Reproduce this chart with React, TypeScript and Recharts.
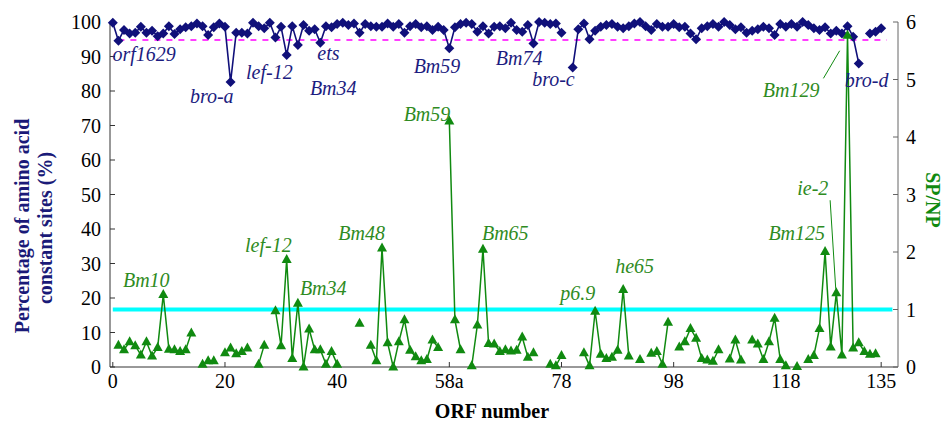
import React from 'react'
import {
  ComposedChart, Line, XAxis, YAxis, ReferenceLine, ReferenceDot,
} from 'recharts'

// ORF position index -> tick label
const tickPos = [0, 20, 40, 60, 80, 100, 120, 137]
const tickLabels = ['0', '20', '40', '58a', '78', '98', '118', '135']

// percentage of amino acid constant sites (%), one per ORF position 0..137
const constantSites: (number | null)[] = [
  99.8, 94.6, 97.7, 96.7, 96.9, 98.6, 96.9, 97.5, 95.9, 96.7,
  98.8, 96.5, 97.9, 98.5, 98.8, 99.6, 98.8, 96.2, 98.5, 99.6,
  98.6, 82.6, 96.9, 96.9, 96.7, 99.8, 98.8, 98.2, 99.8, 95.5,
  98.6, 90.4, 98.8, 93.3, 99.1, 97.5, 97.9, 94.0, 98.8, 98.5,
  99.4, 99.8, 99.1, 99.6, 96.9, 99.4, 98.8, 98.6, 98.6, 99.6,
  98.6, 99.4, 96.9, 98.8, 99.4, 98.5, 98.8, 97.7, 98.6, 97.7,
  92.4, 98.5, 99.4, 99.8, 99.4, 97.2, 98.8, 96.7, 98.6, 98.8,
  98.2, 99.8, 97.7, 97.2, 99.1, 93.8, 100, 99.8, 99.4, 99.6,
  96.9, null, 86.8, 97.9, 99.6, 95.0, 97.5, 98.6, 99.1, 99.4,
  98.6, 98.2, 98.8, 99.6, 100, 98.8, 97.7, 99.4, 98.6, 98.6,
  99.4, 98.5, 98.6, 96.7, 95.0, 98.2, 98.8, 99.4, 98.6, 100,
  99.1, 97.9, 98.5, 96.9, 97.5, 97.9, 98.6, 98.2, 96.2, 99.4,
  98.6, 99.4, 98.6, 100, 99.1, 98.2, 97.7, 98.5, 96.7, 97.5,
  96.7, 98.8, 95.7, 88.0, null, 96.7, 97.2, 98.2,
]

// SP/NP ratio, one per ORF position 0..137
const spnp: (number | null)[] = [
  null, 0.38, 0.30, 0.44, 0.37, 0.21, 0.44, 0.19, 0.34, 1.26,
  0.31, 0.30, 0.27, 0.30, 0.59, null, 0.05, 0.11, 0.11, null,
  0.25, 0.33, 0.23, 0.27, 0.33, null, 0.05, 0.38, null, 0.98,
  0.37, 1.87, 0.15, 1.11, 0.0, 0.66, 0.30, 0.30, 0.05, 0.27,
  0.05, null, null, null, 0.76, null, 0.38, 0.11, 2.07, 0.42,
  0.0, 0.44, 0.82, 0.29, 0.18, 0.11, 0.13, 0.47, 0.34, null,
  4.28, 0.82, 0.30, null, 0.02, 0.73, 2.05, 0.41, 0.40, 0.27,
  0.30, 0.28, 0.29, 0.52, 0.17, 0.25, null, null, 0.05, 0.02,
  0.20, null, null, null, 0.25, 0.02, 0.97, 0.22, 0.15, 0.17,
  0.29, 1.35, 0.19, null, 0.13, null, 0.24, 0.27, 0.05, 0.78,
  null, 0.35, 0.44, 0.67, 0.50, 0.15, 0.12, 0.10, 0.30, null,
  0.14, 0.47, 0.12, null, 0.47, 0.40, 0.13, 0.44, 0.85, 0.13,
  0.02, null, 0.01, null, 0.13, 0.20, 0.67, 2.01, 0.35, 1.29,
  0.21, 5.77, 0.33, 0.42, 0.27, 0.22, 0.23, null,
]

// labelled ORFs: name + position index
const blueNotes = [
  { name: 'orf1629', orf: 1 }, { name: 'bro-a', orf: 21 }, { name: 'lef-12', orf: 31 },
  { name: 'Bm34', orf: 33 }, { name: 'ets', orf: 37 }, { name: 'Bm59', orf: 60 },
  { name: 'Bm74', orf: 75 }, { name: 'bro-c', orf: 82 }, { name: 'bro-d', orf: 133 },
]
const greenNotes = [
  { name: 'Bm10', orf: 9 }, { name: 'lef-12', orf: 31 }, { name: 'Bm34', orf: 33 },
  { name: 'Bm48', orf: 48 }, { name: 'Bm59', orf: 60 }, { name: 'Bm65', orf: 66 },
  { name: 'p6.9', orf: 86 }, { name: 'he65', orf: 91 }, { name: 'Bm125', orf: 127 },
  { name: 'ie-2', orf: 129 }, { name: 'Bm129', orf: 131 },
]

// text placement relative to the marked point (px)
const blueOffsets: Record<string, [number, number, string]> = {
  orf1629: [-6, 20, 'start'], 'bro-a': [3, 21, 'end'], 'lef-12': [6, 24, 'end'],
  Bm34: [12, 50, 'start'], ets: [-3, 17, 'start'], Bm59: [11, 25, 'end'],
  Bm74: [9, 22, 'end'], 'bro-c': [2, 18, 'end'], 'bro-d': [-14, 24, 'start'],
}
const greenOffsets: Record<string, [number, number, string]> = {
  Bm10: [-17, -8, 'middle'], 'lef-12': [5, -7, 'end'], Bm34: [2, -8, 'start'],
  Bm48: [3, -8, 'end'], Bm59: [1, 0, 'end'], Bm65: [-1, -9, 'start'],
  'p6.9': [0, -11, 'end'], he65: [-8, -16, 'start'], Bm125: [0, -11, 'end'],
  'ie-2': [-8, -98, 'end'], Bm129: [-28, 62, 'end'],
}

const data = constantSites.map((v, i) => ({ orf: i, cons: v, spnp: spnp[i] }))

const FONT = '"Liberation Serif", "Times New Roman", serif'
const NAVY = '#10107a'
const GREEN = '#108a10'
const tickStyle = { fontFamily: FONT, fontSize: 20, fill: '#000' }

const Diamond = (p: any) => {
  const { cx, cy, index } = p
  if (cx == null || cy == null || p.value == null) return <g key={`d${index}`} />
  return (
    <polygon key={`d${index}`} fill={NAVY}
      points={`${cx},${cy - 5} ${cx + 5},${cy} ${cx},${cy + 5} ${cx - 5},${cy}`} />
  )
}

const Triangle = (p: any) => {
  const { cx, cy, index } = p
  if (cx == null || cy == null || p.value == null) return <g key={`t${index}`} />
  return (
    <polygon key={`t${index}`} fill={GREEN}
      points={`${cx},${cy - 5.5} ${cx + 5},${cy + 3.5} ${cx - 5},${cy + 3.5}`} />
  )
}

const noteLabel = (name: string, off: [number, number, string], color: string) => (props: any) => {
  const vb = props.viewBox || {}
  const x = (vb.x ?? 0) + (vb.width ?? 0) / 2
  const y = (vb.y ?? 0) + (vb.height ?? 0) / 2
  return (
    <text x={x + off[0]} y={y + off[1]} textAnchor={off[2] as any} fill={color}
      fontFamily={FONT} fontSize={20} fontStyle="italic">
      {name}
    </text>
  )
}

export default function App() {
  return (
    <div style={{ position: 'absolute', left: 0, top: 0, width: 949, height: 423, background: '#fff' }}>
      <ComposedChart width={949} height={423} data={data}
        margin={{ top: 22, right: 0, left: 0, bottom: 0 }}>
        <XAxis dataKey="orf" type="number" domain={[-0.5, 140]} ticks={tickPos}
          tickFormatter={(v: number) => tickLabels[tickPos.indexOf(v)] ?? ''}
          height={56} tick={tickStyle} tickSize={-5} tickMargin={12}
          axisLine={{ stroke: '#333' }} tickLine={{ stroke: '#333' }} />
        <YAxis yAxisId="l" domain={[0, 100]} ticks={[0, 10, 20, 30, 40, 50, 60, 70, 80, 90, 100]}
          width={110} tick={tickStyle} tickSize={-5} tickMargin={14}
          axisLine={{ stroke: '#333' }} tickLine={{ stroke: '#333' }} />
        <YAxis yAxisId="r" orientation="right" domain={[0, 6]} ticks={[0, 1, 2, 3, 4, 5, 6]}
          width={51} tick={tickStyle} tickSize={-5} tickMargin={13}
          axisLine={{ stroke: '#666' }} tickLine={{ stroke: '#666' }} />

        <ReferenceLine yAxisId="l" segment={[{ x: 1, y: 94.8 }, { x: 138, y: 94.8 }]}
          stroke="#ff00ff" strokeWidth={1.5} strokeDasharray="6 6" />
        <ReferenceLine yAxisId="r" segment={[{ x: 0, y: 1 }, { x: 139, y: 1 }]}
          stroke="#00ffff" strokeWidth={4} />
        <ReferenceLine yAxisId="r" segment={[{ x: 126.7, y: 5.02 }, { x: 129.6, y: 5.5 }]}
          stroke={GREEN} strokeWidth={1} />
        <ReferenceLine yAxisId="r" segment={[{ x: 127.9, y: 2.9 }, { x: 128.9, y: 1.36 }]}
          stroke={GREEN} strokeWidth={1} />

        <Line yAxisId="l" dataKey="cons" stroke={NAVY} strokeWidth={1.6}
          dot={Diamond} activeDot={false} isAnimationActive={false} />
        <Line yAxisId="r" dataKey="spnp" stroke={GREEN} strokeWidth={1.5}
          dot={Triangle} activeDot={false} isAnimationActive={false} />

        {blueNotes.map(n => (
          <ReferenceDot key={'b' + n.name} yAxisId="l" x={n.orf} y={constantSites[n.orf] as number}
            r={1} fill="none" stroke="none"
            label={noteLabel(n.name, blueOffsets[n.name], '#1c1c80')} />
        ))}
        {greenNotes.map(n => (
          <ReferenceDot key={'g' + n.name} yAxisId="r" x={n.orf} y={spnp[n.orf] as number}
            r={1} fill="none" stroke="none"
            label={noteLabel(n.name, greenOffsets[n.name], '#2e8b22')} />
        ))}
      </ComposedChart>
      <svg width={949} height={423} style={{ position: 'absolute', left: 0, top: 0, pointerEvents: 'none' }}>
        <g fontFamily={FONT} fontSize={20} fontWeight="bold">
          <text transform="translate(29,226) rotate(-90)" textAnchor="middle" fill="#1a1a78">
            Percentage of amino acid
          </text>
          <text transform="translate(52,228) rotate(-90)" textAnchor="middle" fill="#1a1a78">
            constant sites (%)
          </text>
          <text transform="translate(926,200) rotate(90)" textAnchor="middle" fill={GREEN}>
            SP/NP
          </text>
          <text x={492} y={418} textAnchor="middle" fill="#000">ORF number</text>
        </g>
      </svg>
    </div>
  )
}
